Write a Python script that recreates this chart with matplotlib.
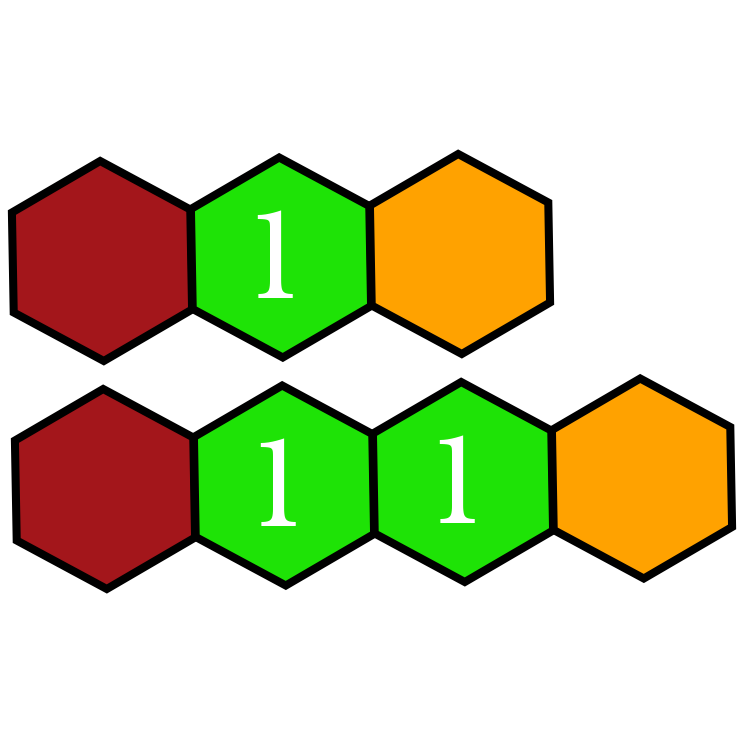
import numpy as np
import matplotlib.pyplot as plt
from matplotlib.patches import Polygon

# cell colours and labels, one list per row
row1_colors = ['#a3161b', '#1ee306', '#ffa200']
row1_labels = ['', '1', '']
row2_colors = ['#a3161b', '#1ee306', '#1ee306', '#ffa200']
row2_labels = ['', '1', '1', '']

rows = [(row1_colors, row1_labels), (row2_colors, row2_labels)]

# layout (pixel coords, y down)
row_origin = [(102, 261), (105, 489)]
step_x, step_y = 179, -3.5
rx, ry = 103, 100
tilt = -1.0

fig = plt.figure(figsize=(7.44, 7.44), dpi=100)
ax = fig.add_axes([0, 0, 1, 1])
ax.set_xlim(0, 744)
ax.set_ylim(744, 0)
ax.set_aspect('equal')
ax.axis('off')

for (colors, labels), (ox, oy) in zip(rows, row_origin):
    for i, (c, lab) in enumerate(zip(colors, labels)):
        cx = ox + i * step_x
        cy = oy + i * step_y
        ang = np.deg2rad(tilt - 90 + 60 * np.arange(6))
        pts = np.column_stack([cx + rx * np.cos(ang), cy + ry * np.sin(ang)])
        ax.add_patch(Polygon(pts, closed=True, facecolor=c, edgecolor='black',
                             linewidth=5.8, joinstyle='miter'))
        if lab:
            ax.text(cx - 7, cy + 41, lab, color='white', fontsize=81,
                    family=['Libre Baskerville', 'Liberation Serif'],
                    ha='center', va='baseline')

fig.savefig('out.png', dpi=100)
